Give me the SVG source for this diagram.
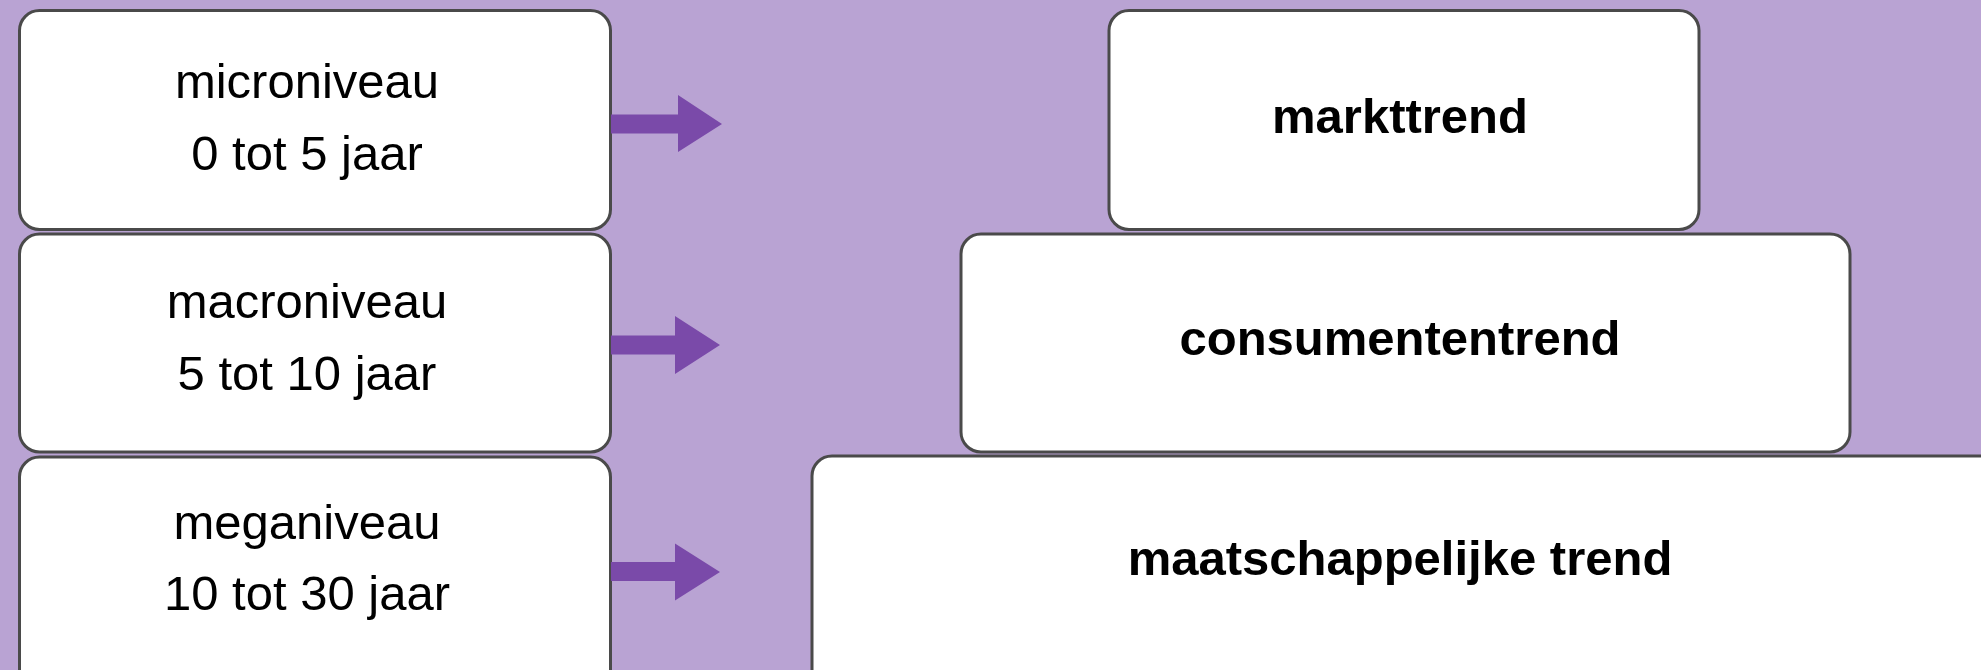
<svg xmlns="http://www.w3.org/2000/svg" width="1981" height="670" viewBox="0 0 1981 670">
<style>
.box{fill:#ffffff;stroke:#4a4a4a;stroke-width:3}
.t{font-family:"Liberation Sans",Arial,sans-serif;font-size:49px;fill:#000;text-anchor:middle}
.b{font-weight:bold}
.arr{fill:#7a4aa9}
</style>
<rect x="0" y="0" width="1981" height="670" fill="#b9a3d3"/>
<g id="micro">
<rect class="box" x="19.5" y="10.5" width="591" height="219" rx="20"/>
<text class="t" x="307" y="98">microniveau</text>
<text class="t" x="307" y="170">0 tot 5 jaar</text>
</g>
<g id="macro">
<rect class="box" x="19.5" y="234" width="591" height="218" rx="20"/>
<text class="t" x="307" y="318">macroniveau</text>
<text class="t" x="307" y="390">5 tot 10 jaar</text>
</g>
<g id="mega">
<rect class="box" x="19.5" y="457" width="591" height="240" rx="20"/>
<text class="t" x="307" y="539">meganiveau</text>
<text class="t" x="307" y="610">10 tot 30 jaar</text>
</g>
<g id="markt">
<rect class="box" x="1109" y="10.5" width="590" height="219" rx="20"/>
<text class="t b" x="1400" y="133">markttrend</text>
</g>
<g id="consument">
<rect class="box" x="961" y="234" width="889" height="218" rx="20"/>
<text class="t b" x="1400" y="355">consumententrend</text>
</g>
<g id="maatschappij">
<rect class="box" x="812" y="456" width="1200" height="240" rx="20"/>
<text class="t b" x="1400" y="575">maatschappelijke trend</text>
</g>
<g id="connectors">
<polygon class="arr" points="611,114.5 678,114.5 678,95 722,124 678,152 678,133.5 611,133.5"/>
<polygon class="arr" points="611,335.5 675,335.5 675,316 720,345 675,374 675,354.5 611,354.5"/>
<polygon class="arr" points="611,562 675,562 675,543.5 720,572 675,600.5 675,581 611,581"/>
</g>
</svg>
